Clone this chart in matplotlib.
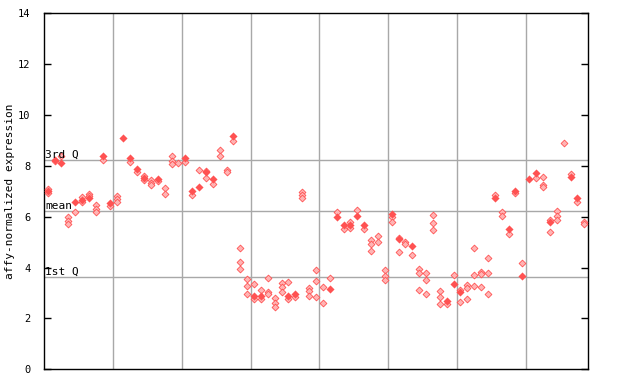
import matplotlib
matplotlib.use("Agg")
import matplotlib.pyplot as plt
import numpy as np

# valores (79 amostras)
filled = [7.0, 8.25, 8.13, None, 6.56, 6.66, 6.72, None, 8.37, 6.52,
          None, 9.08, 8.29, 7.87, 7.54, None, 7.5, None, None, None,
          8.3, 7.03, 7.15, 7.74, 7.5, None, None, 9.16, None, None,
          2.88, 2.87, None, None, None, 2.88, 2.95, None, None, None,
          None, 3.17, 5.97, 5.69, 5.67, 6.01, 5.67, None, None, None,
          6.11, 5.11, None, 4.86, None, None, None, None, 2.69, 3.36,
          3.04, None, None, None, None, 6.72, None, 5.53, 7.03, 3.68,
          7.47, 7.7, None, 5.81, None, None, 7.58, 6.75, None]

hollow_a = [7.10, 8.2, 8.4, 5.98, 6.19, 6.77, 6.9, 6.45, 8.24, 6.43,
            6.8, None, 8.16, 7.74, 7.61, 7.43, 7.41, 7.12, 8.37, 8.11,
            8.15, 6.85, 7.83, 7.81, 7.29, 8.62, 7.85, 8.98, 4.76, 3.54,
            3.34, 3.1, 3.58, 2.79, 3.38, 3.42, 2.83, 6.98, 3.18, 3.89,
            3.23, 3.58, 6.18, 5.53, 5.8, 6.27, 5.53, 5.09, 5.23, 3.89,
            5.98, 5.18, 5.0, 4.48, 3.94, 3.77, 6.07, 3.08, 2.56, 3.69,
            3.13, 3.3, 4.76, 3.82, 4.38, 6.86, 6.2, 5.31, 6.93, 4.17,
            None, 7.54, 7.56, 5.88, 6.21, 8.9, 7.67, 6.58, 5.81]

hollow_b = [6.93, None, None, 5.85, None, 6.57, 6.8, 6.32, None, None,
            6.69, None, None, None, 7.45, 7.32, None, 6.9, 8.21, None,
            None, None, None, 7.52, None, 8.39, 7.76, None, 4.21, 3.26,
            2.76, 2.76, 3.02, 2.59, 3.22, 2.77, None, 6.85, 3.09, 3.47,
            2.59, None, None, None, 5.55, None, None, 4.93, 5.0, 3.67,
            5.81, 4.6, 4.92, None, 3.79, 3.51, 5.74, 2.83, None, None,
            2.63, 3.19, 3.69, 3.75, 3.77, None, 6.01, None, None, None,
            None, None, 7.26, 5.39, 6.04, None, None, None, 5.72]

hollow_c = [None, None, None, 5.72, None, None, None, 6.2, None, None,
            6.58, None, None, None, None, 7.24, None, None, 8.08, None,
            None, None, None, None, None, None, None, None, 3.93, 2.95,
            None, None, 2.95, 2.46, 3.02, None, None, 6.72, 2.87, 2.83,
            None, None, None, None, None, None, None, 4.64, None, 3.51,
            None, None, None, None, 3.1, 2.95, 5.47, 2.55, None, None,
            None, 2.75, 3.27, 3.23, 2.98, None, None, None, None, None,
            None, None, 7.16, None, 5.88, None, None, None, None]

q1, media, q3 = 3.63, 6.23, 8.24
yticks = [0, 2, 4, 6, 8, 10, 12, 14]

vermelho = "#ff5252"
cinza = "#a8a8a8"
mono = "DejaVu Sans Mono"

fig = plt.figure(figsize=(6.4, 3.84), dpi=100)
ax = fig.add_axes([0.0692, 0.0383, 0.8491, 0.9271])

n = len(filled)
idx = np.arange(n)


def pontos(vals):
    xs = [i for i, v in zip(idx, vals) if v is not None]
    ys = [v for v in vals if v is not None]
    return xs, ys


# grade vertical a cada 10 amostras
for g in np.arange(9.5, n - 1, 10):
    ax.axvline(g, color=cinza, lw=1, zorder=1)

# linhas dos quartis e media
for v in (q1, media, q3):
    ax.axhline(v, color=cinza, lw=1, zorder=1)

for vals in (hollow_a, hollow_b, hollow_c):
    xs, ys = pontos(vals)
    ax.scatter(xs, ys, marker="D", s=12, facecolor="#ffb4b4",
               edgecolor=vermelho, linewidth=0.6, zorder=3)

xs, ys = pontos(filled)
ax.scatter(xs, ys, marker="D", s=17, color=vermelho, linewidth=0, zorder=4)

ax.text(-0.4, q3, "3rd Q", family=mono, fontsize=8, va="bottom", ha="left", zorder=5)
ax.text(-0.4, media, "mean", family=mono, fontsize=8, va="bottom", ha="left", zorder=5)
ax.text(-0.4, q1, "1st Q", family=mono, fontsize=8, va="bottom", ha="left", zorder=5)

ax.set_xlim(-0.5, n - 0.5)
ax.set_ylim(0, 14)
ax.set_xticks([])
ax.set_yticks(yticks)
ax.set_yticklabels([str(t) for t in yticks], family=mono, fontsize=7.5)
ax.tick_params(axis="y", direction="in", length=5, width=1, right=True, pad=10)
ax.set_ylabel("affy-normalized expression", family=mono, fontsize=8, labelpad=2)
for s in ax.spines.values():
    s.set_linewidth(1)

plt.savefig("out.png", dpi=100)
